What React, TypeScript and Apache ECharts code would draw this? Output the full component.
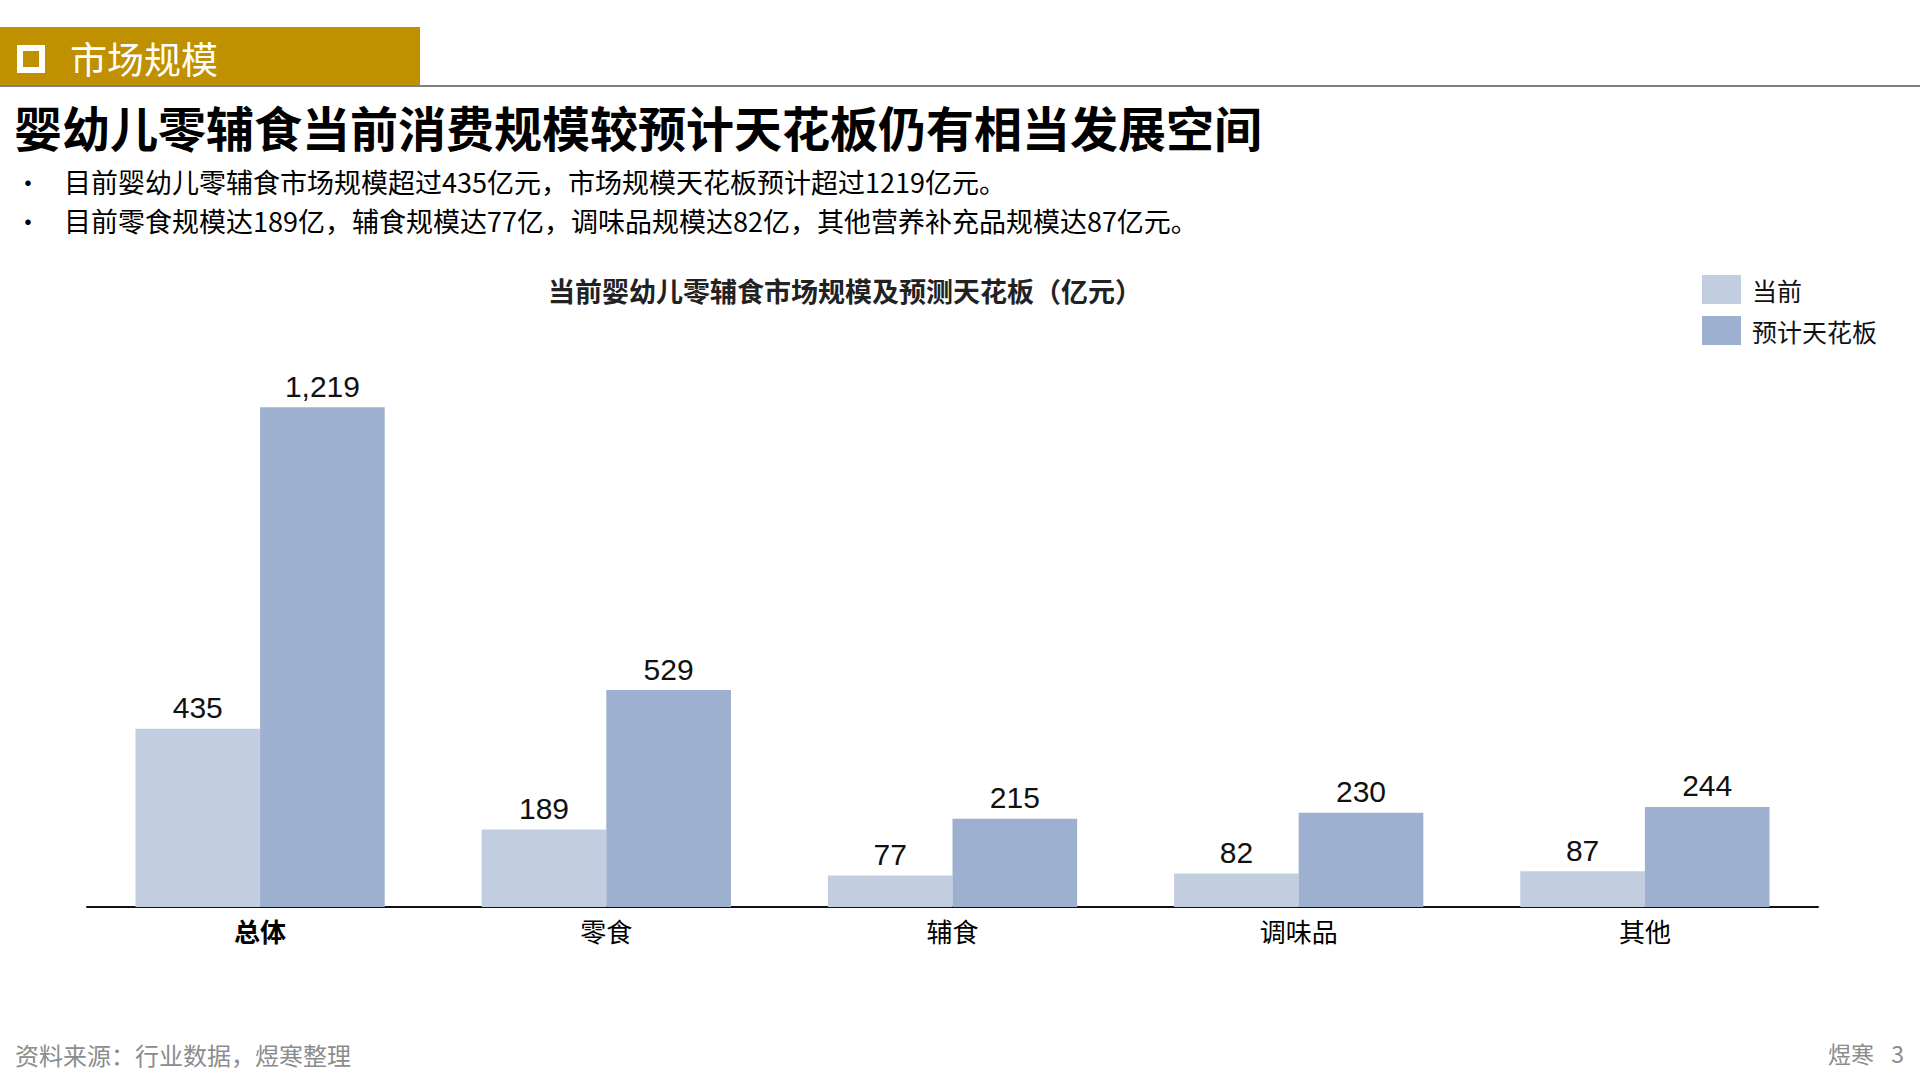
import React, { useEffect, useRef } from "react";
import * as echarts from "echarts";

const categories = ["总体", "零食", "辅食", "调味品", "其他"];
const currentValues = [435, 189, 77, 82, 87];
const ceilingValues = [1219, 529, 215, 230, 244];
const seriesNames = ["当前", "预计天花板"];

const headerLabel = "市场规模";
const mainTitle = "婴幼儿零辅食当前消费规模较预计天花板仍有相当发展空间";
const bullets = [
  "目前婴幼儿零辅食市场规模超过435亿元，市场规模天花板预计超过1219亿元。",
  "目前零食规模达189亿，辅食规模达77亿，调味品规模达82亿，其他营养补充品规模达87亿元。",
];
const chartTitle = "当前婴幼儿零辅食市场规模及预测天花板（亿元）";
const sourceNote = "资料来源：行业数据，煜寒整理";
const pageBrand = "煜寒";
const pageNumber = "3";

const CJK = "'Noto Sans CJK SC', 'Noto Sans', sans-serif";
const NUM = "'Liberation Sans Narrow', 'Arial Narrow', 'Liberation Sans', sans-serif";

export default function App() {
  const ref = useRef<HTMLDivElement>(null);
  useEffect(() => {
    if (!ref.current) return;
    const chart = echarts.init(ref.current, null, { renderer: "svg" });
    const labelStyle = {
      show: true,
      position: "top",
      distance: 6,
      color: "#111",
      fontSize: 30,
      fontFamily: NUM,
      formatter: (p: any) => Number(p.value).toLocaleString("en-US"),
    };
    chart.setOption({
      animation: false,
      backgroundColor: "#ffffff",
      textStyle: { fontFamily: CJK },
      graphic: [
        { type: "rect", shape: { x: 0, y: 27, width: 420, height: 59 }, style: { fill: "#BF9000" } },
        { type: "rect", shape: { x: 20, y: 48, width: 22, height: 22 }, style: { fill: "none", stroke: "#ffffff", lineWidth: 6 } },
        { type: "text", x: 70, y: 58, style: { text: headerLabel, fill: "#ffffff", fontSize: 37, fontFamily: CJK, verticalAlign: "middle" } },
        { type: "line", shape: { x1: 0, y1: 86, x2: 1920, y2: 86 }, style: { stroke: "#7f7f7f", lineWidth: 2 } },
        { type: "text", x: 14, y: 126, style: { text: mainTitle, fill: "#000", fontSize: 48, fontWeight: "bold", fontFamily: CJK, verticalAlign: "middle" } },
        { type: "text", x: 15, y: 181, style: { text: "•", fill: "#000", fontSize: 26, fontFamily: CJK, verticalAlign: "middle" } },
        { type: "text", x: 64, y: 181, style: { text: bullets[0], fill: "#000", fontSize: 27, fontFamily: CJK, verticalAlign: "middle" } },
        { type: "text", x: 15, y: 220, style: { text: "•", fill: "#000", fontSize: 26, fontFamily: CJK, verticalAlign: "middle" } },
        { type: "text", x: 64, y: 220, style: { text: bullets[1], fill: "#000", fontSize: 27, fontFamily: CJK, verticalAlign: "middle" } },
        { type: "text", x: 845, y: 290, style: { text: chartTitle, fill: "#222", fontSize: 27, fontWeight: "bold", fontFamily: CJK, align: "center", verticalAlign: "middle" } },
        { type: "text", x: 15, y: 1054, style: { text: sourceNote, fill: "#8c8c8c", fontSize: 24, fontFamily: CJK, verticalAlign: "middle" } },
        { type: "text", x: 1828, y: 1053, style: { text: pageBrand, fill: "#8c8c8c", fontSize: 23, fontFamily: CJK, verticalAlign: "middle" } },
        { type: "text", x: 1904, y: 1053, style: { text: pageNumber, fill: "#8c8c8c", fontSize: 23, fontFamily: CJK, align: "right", verticalAlign: "middle" } },
      ],
      legend: {
        orient: "vertical",
        left: 1697,
        top: 270,
        itemWidth: 39,
        itemHeight: 29,
        itemGap: 12,
        icon: "rect",
        data: seriesNames,
        textStyle: { fontSize: 25, color: "#111", fontFamily: CJK, padding: [0, 0, 0, 6] },
      },
      grid: { left: 87, right: 102, top: 333, bottom: 173, containLabel: false },
      xAxis: {
        type: "category",
        data: categories,
        axisLine: { lineStyle: { color: "#111", width: 2 } },
        axisTick: { show: false },
        axisLabel: {
          margin: 10,
          fontSize: 26,
          color: "#000",
          fontFamily: CJK,
          formatter: (v: string) => (v === categories[0] ? `{b|${v}}` : v),
          rich: { b: { fontSize: 26, fontWeight: "bold", color: "#000", fontFamily: CJK } },
        },
      },
      yAxis: { type: "value", min: 0, max: 1400, show: false, splitLine: { show: false } },
      series: [
        {
          name: seriesNames[0],
          type: "bar",
          data: currentValues,
          barGap: "0%",
          barCategoryGap: "28%",
          itemStyle: { color: "#C3CDE0" },
          label: labelStyle,
        },
        {
          name: seriesNames[1],
          type: "bar",
          data: ceilingValues,
          barGap: "0%",
          barCategoryGap: "28%",
          itemStyle: { color: "#9DB0CF" },
          label: labelStyle,
        },
      ],
    });
    return () => chart.dispose();
  }, []);
  return (
    <div
      ref={ref}
      style={{ position: "fixed", left: 0, top: 0, width: 1920, height: 1080, background: "#fff" }}
    />
  );
}
